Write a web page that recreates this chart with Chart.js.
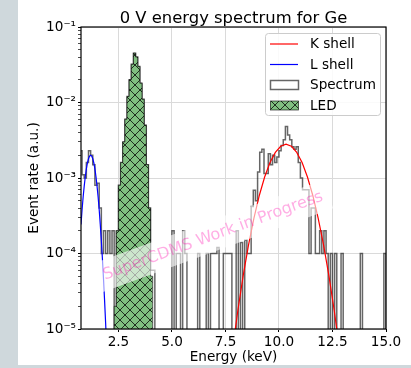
<!DOCTYPE html>
<html><head><meta charset="utf-8">
<script src="https://cdn.jsdelivr.net/npm/chart.js@4"></script>
<style>html,body{margin:0;padding:0;background:#cfd8dc;}canvas{display:block}</style>
</head><body>
<canvas id="c" width="411" height="368"></canvas>
<script>
// ---- data ----
const spectrumStart = 0.7;   // keV, left edge of first bin
const binWidth = 0.1;        // keV
const spectrumRate = [
  2.3e-3,                                                        // 0.7
  1.1e-3, 1.0e-3, 1.6e-3, 2.3e-3, 2.0e-3, 1.5e-3, 8e-4, 8.5e-4, 4e-4, 1e-4,   // 0.8-1.7
  2e-4, 1e-4, 2e-4, 1e-4, 2e-4, 0, 2e-4,                          // 1.8-2.4
  8e-4, 1.6e-3, 3e-3, 6e-3, 1.2e-2, 2e-2, 3.2e-2, 4.5e-2, 4e-2, 3e-2, 1.8e-2, 1.1e-2, 5e-3, 1.5e-3, 4e-4, // 2.5-3.9
  6e-5, 6e-5,                                                    // 4.0-4.1
  0, 0, 0, 0, 0, 0, 0, 0,                                        // 4.2-4.9
  2e-4, 0, 1e-4, 1e-4, 0, 2e-4, 1e-4, 0, 0, 0,                   // 5.0-5.9
  0, 0, 1e-4, 0, 0, 0, 1e-4, 0, 1e-4, 1e-4,                      // 6.0-6.9
  1e-4, 1.2e-4, 0, 0, 1e-4, 1e-4, 1e-4, 1e-4, 0, 0,              // 7.0-7.9
  2e-4, 0, 1.4e-4, 0, 1.5e-4, 1e-4, 1e-4, 4.2e-4, 6.9e-4, 5e-4,  // 8.0-8.9
  1.2e-3, 2.2e-3, 2.4e-3, 1.15e-3, 1.15e-3, 2.1e-3, 1.5e-3, 2.0e-3, 1.6e-3, 1.9e-3, // 9.0-9.9
  2.3e-3, 2.7e-3, 3.2e-3, 4.8e-3, 3.7e-3, 3.2e-3, 2.6e-3, 2.4e-3, 2.6e-3, 1.6e-3,  // 10.0-10.9
  1.0e-3, 7e-4, 7e-4, 7e-4, 1e-4, 4e-4, 4e-4, 1e-4, 1e-4, 2e-4,  // 11.0-11.9
  1e-4, 2e-4, 1e-4, 0, 1e-4, 0, 1e-4, 0, 0, 1e-4,                // 12.0-12.9
  0, 0, 0, 0, 0, 0, 0, 0, 1e-4, 0,                               // 13.0-13.9
  0, 0, 0, 0, 0, 0, 0, 0, 0, 1e-4                                // 14.0-14.9
];
const ledStart = 2.3;
const ledRate = [2e-5, 2e-4, 8e-4, 1.6e-3, 3e-3, 6e-3, 1.2e-2, 2e-2, 3.2e-2, 4.5e-2,
                 4e-2, 3e-2, 1.8e-2, 1.1e-2, 5e-3, 1.5e-3, 4e-4, 5e-5];
const lShellE = [0.75,0.8,0.85,0.9,0.95,1.0,1.05,1.1,1.15,1.2,1.25,1.3,1.35,1.4,1.45,1.5,1.55,1.6,1.65,1.7,1.75,1.8,1.85,1.9,1.95];
const lShellRate = [2.43e-4,3.8e-4,5.6e-4,7.8e-4,1.04e-3,1.32e-3,1.58e-3,1.8e-3,1.95e-3,2.0e-3,1.95e-3,1.8e-3,1.58e-3,1.32e-3,1.04e-3,7.8e-4,5.6e-4,3.8e-4,2.43e-4,1.48e-4,8.6e-5,4.7e-5,2.45e-5,1.21e-5,5.7e-6];
const kShellE = [7.58,7.83,8.08,8.33,8.58,8.83,9.08,9.33,9.58,9.83,10.08,10.33,10.58,10.83,11.08,11.33,11.58,11.83,12.08,12.33,12.58,12.83,13.08];
const kShellRate = [1.45e-6,5.4e-6,1.77e-5,5.13e-5,1.31e-4,2.95e-4,5.87e-4,1.03e-3,1.6e-3,2.18e-3,2.63e-3,2.8e-3,2.63e-3,2.18e-3,1.6e-3,1.03e-3,5.87e-4,2.95e-4,1.31e-4,5.13e-5,1.77e-5,5.4e-6,1.45e-6];
const xTickValues = [2.5, 5.0, 7.5, 10.0, 12.5, 15.0];
const yDecades = [1e-5, 1e-4, 1e-3, 1e-2, 1e-1];
const legendLabels = ['K shell', 'L shell', 'Spectrum', 'LED'];
const titleText = '0 V energy spectrum for Ge';
const xTitle = 'Energy (keV)';
const yTitle = 'Event rate (a.u.)';
const watermark = 'SuperCDMS Work in Progress';

// ---- helpers ----
const FLOOR = 1e-9;
function stepPoints(start, w, vals){
  const pts = [{x:start, y:FLOOR}];
  vals.forEach((v,i)=>pts.push({x:start+i*w, y:v>0?v:FLOOR}));
  pts.push({x:start+vals.length*w, y:FLOOR});
  return pts;
}
const FONT = '"DejaVu Sans", sans-serif';
const GREEN = '#80bf80';
function makeHatch(){
  const s = 10, c = document.createElement('canvas'); c.width = s; c.height = s;
  const g = c.getContext('2d');
  g.fillStyle = GREEN; g.fillRect(0,0,s,s);
  g.strokeStyle = 'rgba(0,0,0,0.85)'; g.lineWidth = 0.9;
  g.beginPath();
  g.moveTo(-1,-1); g.lineTo(s+1,s+1);
  g.moveTo(s+1,-1); g.lineTo(-1,s+1);
  g.stroke();
  return g.createPattern(c,'repeat');
}
const hatch = makeHatch();
const supers = {'-':'\u207B','0':'\u2070','1':'\u00B9','2':'\u00B2','3':'\u00B3','4':'\u2074','5':'\u2075','6':'\u2076','7':'\u2077','8':'\u2078','9':'\u2079'};
function isMajor(v){ const l = Math.log10(v); return Math.abs(l-Math.round(l))<1e-6; }
function decadeLabel(v){ const e = String(Math.round(Math.log10(v))); return '10' + e.split('').map(ch=>supers[ch]).join(''); }

const decor = {
  id:'decor',
  beforeDraw(chart){
    const c = chart.ctx;
    c.save();
    c.fillStyle = '#cfd8dc'; c.fillRect(0,0,chart.width,chart.height);
    c.fillStyle = '#ffffff'; c.fillRect(18,0,chart.width-18,365);
    c.restore();
  },
  afterDatasetsDraw(chart){
    const c = chart.ctx, a = chart.chartArea;
    // watermark
    c.save();
    c.beginPath(); c.rect(a.left,a.top,a.right-a.left,a.bottom-a.top); c.clip();
    c.translate(213,236); c.rotate(-20*Math.PI/180);
    c.font = '16px ' + FONT;
    const w = c.measureText(watermark).width;
    c.fillStyle = 'rgba(255,255,255,0.6)';
    c.fillRect(-w/2-6,-15,w+12,30);
    c.fillStyle = 'rgba(255,0,170,0.32)';
    c.textAlign = 'center'; c.textBaseline = 'middle';
    c.fillText(watermark,0,0);
    c.restore();
    // frame
    c.save();
    c.strokeStyle = '#000'; c.lineWidth = 1.2;
    c.strokeRect(a.left,a.top,a.right-a.left,a.bottom-a.top);
    c.restore();
  },
  afterDraw(chart){
    const c = chart.ctx, a = chart.chartArea;
    c.save();
    c.fillStyle = '#000';
    c.font = '16.4px ' + FONT; c.textAlign = 'center'; c.textBaseline = 'alphabetic';
    c.fillText(titleText,(a.left+a.right)/2,23);
    c.font = '13.6px ' + FONT;
    c.fillText(xTitle,(a.left+a.right)/2,361);
    c.save(); c.translate(34,(a.top+a.bottom)/2); c.rotate(-Math.PI/2);
    c.textBaseline = 'middle'; c.fillText(yTitle,0,0); c.restore();
    // legend
    const lx = 265.5, ly = 33.5, lw = 115, lh = 82;
    c.beginPath();
    if (c.roundRect) c.roundRect(lx,ly,lw,lh,3); else c.rect(lx,ly,lw,lh);
    c.fillStyle = 'rgba(255,255,255,0.85)'; c.fill();
    c.strokeStyle = '#cccccc'; c.lineWidth = 1; c.stroke();
    const rows = [44,64.5,85,105.5];
    const ds = chart.data.datasets;
    legendLabels.forEach((lab,i)=>{
      const y = rows[i];
      const d = ds.find(e=>e.label===lab);
      if (lab==='K shell' || lab==='L shell'){
        c.strokeStyle = d.borderColor; c.lineWidth = 1.2;
        c.beginPath(); c.moveTo(270,y); c.lineTo(298,y); c.stroke();
      } else if (lab==='Spectrum'){
        c.fillStyle = '#fff'; c.fillRect(270.5,y-4.5,28,9);
        c.strokeStyle = d.borderColor; c.lineWidth = 1.5; c.strokeRect(270.5,y-4.5,28,9);
      } else {
        c.fillStyle = hatch; c.fillRect(270.5,y-4.5,28,9);
        c.strokeStyle = d.borderColor; c.lineWidth = 0.8; c.strokeRect(270.5,y-4.5,28,9);
      }
      c.fillStyle = '#000'; c.textAlign = 'left'; c.textBaseline = 'middle';
      c.font = '13.6px ' + FONT;
      c.fillText(lab,310,y+0.5);
    });
    c.restore();
  }
};

new Chart(document.getElementById('c'), {
  type:'line',
  data:{datasets:[
    {label:'K shell', data:kShellE.map((x,i)=>({x, y:kShellRate[i]})), borderColor:'#ff0000', borderWidth:1.2, pointRadius:0, fill:false, tension:0, order:1},
    {label:'L shell', data:lShellE.map((x,i)=>({x, y:lShellRate[i]})), borderColor:'#0000ff', borderWidth:1.2, pointRadius:0, fill:false, tension:0, order:1},
    {label:'LED', data:stepPoints(ledStart,binWidth,ledRate), stepped:'before', borderColor:'rgba(0,0,0,0.75)', borderWidth:0.8, backgroundColor:hatch, fill:'start', pointRadius:0, order:2},
    {label:'Spectrum', data:stepPoints(spectrumStart,binWidth,spectrumRate), stepped:'before', borderColor:'rgba(0,0,0,0.6)', borderWidth:1.5, fill:false, pointRadius:0, order:3}
  ]},
  options:{
    responsive:false, animation:false, devicePixelRatio:1,
    layout:{padding:{left:18, right:25, top:27, bottom:18}},
    plugins:{legend:{display:false}, title:{display:false}, tooltip:{enabled:false}},
    elements:{point:{radius:0}},
    scales:{
      x:{type:'linear', min:0.75, max:15,
        afterBuildTicks:s=>{ s.ticks = xTickValues.map(v=>({value:v})); },
        afterFit:s=>{ s.height = 21; },
        ticks:{autoSkip:false, maxRotation:0, padding:2, color:'#000', font:{family:'DejaVu Sans', size:13.6}, callback:v=>Number(v).toFixed(1)},
        grid:{color:'#dadada', lineWidth:1, tickColor:'#000', tickLength:3},
        border:{display:false}
      },
      y:{type:'logarithmic', min:1e-5, max:1e-1,
        afterBuildTicks:s=>{
          const t = [];
          yDecades.forEach((d,i)=>{
            t.push({value:d, major:true});
            if (i<yDecades.length-1) for (let m=2;m<=9;m++) t.push({value:d*m});
          });
          s.ticks = t;
        },
        afterFit:s=>{ s.width = 63; },
        ticks:{autoSkip:false, padding:2, color:'#000', font:{family:'DejaVu Sans', size:13.6},
          callback:v=> isMajor(v) ? decadeLabel(v) : ''},
        grid:{color:c=> (c.tick && isMajor(c.tick.value)) ? '#dadada' : 'rgba(0,0,0,0)', lineWidth:1,
          tickColor:'#000', tickLength:3, tickWidth:c=> (c.tick && isMajor(c.tick.value)) ? 1 : 0.7},
        border:{display:false}
      }
    }
  },
  plugins:[decor]
});
</script>
</body></html>
